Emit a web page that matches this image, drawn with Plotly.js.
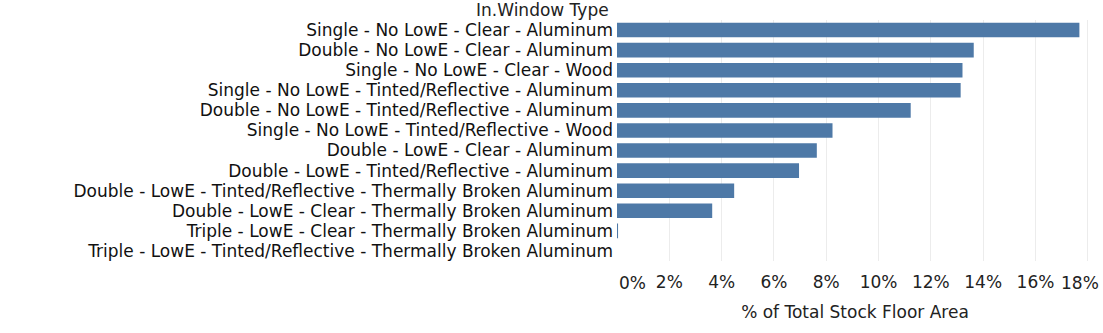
<!DOCTYPE html>
<html>
<head>
<meta charset="utf-8">
<script src="https://cdn.plot.ly/plotly-3.0.1.min.js"></script>
<style>html,body{margin:0;padding:0;background:#fff;}#chart{width:1103px;height:333px;}</style>
</head>
<body>
<div id="chart"></div>
<script>
const windowTypes = [
  "Single - No LowE - Clear - Aluminum",
  "Double - No LowE - Clear - Aluminum",
  "Single - No LowE - Clear - Wood",
  "Single - No LowE - Tinted/Reflective - Aluminum",
  "Double - No LowE - Tinted/Reflective - Aluminum",
  "Single - No LowE - Tinted/Reflective - Wood",
  "Double - LowE - Clear - Aluminum",
  "Double - LowE - Tinted/Reflective - Aluminum",
  "Double - LowE - Tinted/Reflective - Thermally Broken Aluminum",
  "Double - LowE - Clear - Thermally Broken Aluminum",
  "Triple - LowE - Clear - Thermally Broken Aluminum",
  "Triple - LowE - Tinted/Reflective - Thermally Broken Aluminum"
];
const pctFloorArea = [17.68, 13.64, 13.21, 13.14, 11.23, 8.24, 7.64, 6.96, 4.48, 3.64, 0.04, 0.0];
const tickValues = [0, 2, 4, 6, 8, 10, 12, 14, 16, 18];
const tickLabels = ["0%", "2%", "4%", "6%", "8%", "10%", "12%", "14%", "16%", "18%"];

const font = "DejaVu Sans, sans-serif";
const fs = 17;
const last = tickLabels.length - 1;
const shownTicks = tickLabels.map((t, i) => (i === 0 || i === last) ? "" : t);
Plotly.newPlot("chart", [{
  type: "bar",
  orientation: "h",
  x: pctFloorArea,
  y: windowTypes,
  marker: {color: "#4e79a7"},
  hoverinfo: "x+y"
}], {
  width: 1103, height: 333,
  margin: {l: 617, r: 10, t: 20, b: 72},
  paper_bgcolor: "#fff", plot_bgcolor: "#fff",
  bargap: 0.275,
  font: {family: font, size: fs, color: "#222"},
  xaxis: {
    range: [0, 18.2],
    tickmode: "array", tickvals: tickValues, ticktext: shownTicks,
    showgrid: true, gridcolor: "#ececec", zeroline: false,
    showline: false, ticks: "", ticklabelstandoff: 9, ticklabeloverflow: "allow",
    tickfont: {size: fs, color: "#222"},
    title: {text: "% of Total Stock Floor Area", font: {size: fs, color: "#222"}, standoff: 15}
  },
  yaxis: {
    autorange: "reversed", showgrid: false, zeroline: false,
    tickmode: "array", tickvals: windowTypes, ticktext: windowTypes,
    ticks: "", ticklen: 0, ticklabelstandoff: 3, tickfont: {size: fs, color: "#111"}
  },
  annotations: [{
    text: "In.Window Type", xref: "paper", yref: "paper",
    x: 0, y: 1, xanchor: "right", yanchor: "middle", xshift: -6, yshift: 10,
    showarrow: false, font: {size: fs, color: "#222"}
  }, {
    text: tickLabels[0], xref: "x", yref: "paper",
    x: tickValues[0], y: 0, xanchor: "left", yanchor: "middle", yshift: -22,
    showarrow: false, font: {size: fs, color: "#222"}
  }, {
    text: tickLabels[last], xref: "x", yref: "paper",
    x: tickValues[last], y: 0, xanchor: "right", yanchor: "middle", yshift: -22, xshift: 13,
    showarrow: false, font: {size: fs, color: "#222"}
  }]
}, {displayModeBar: false, staticPlot: true});
</script>
</body>
</html>
